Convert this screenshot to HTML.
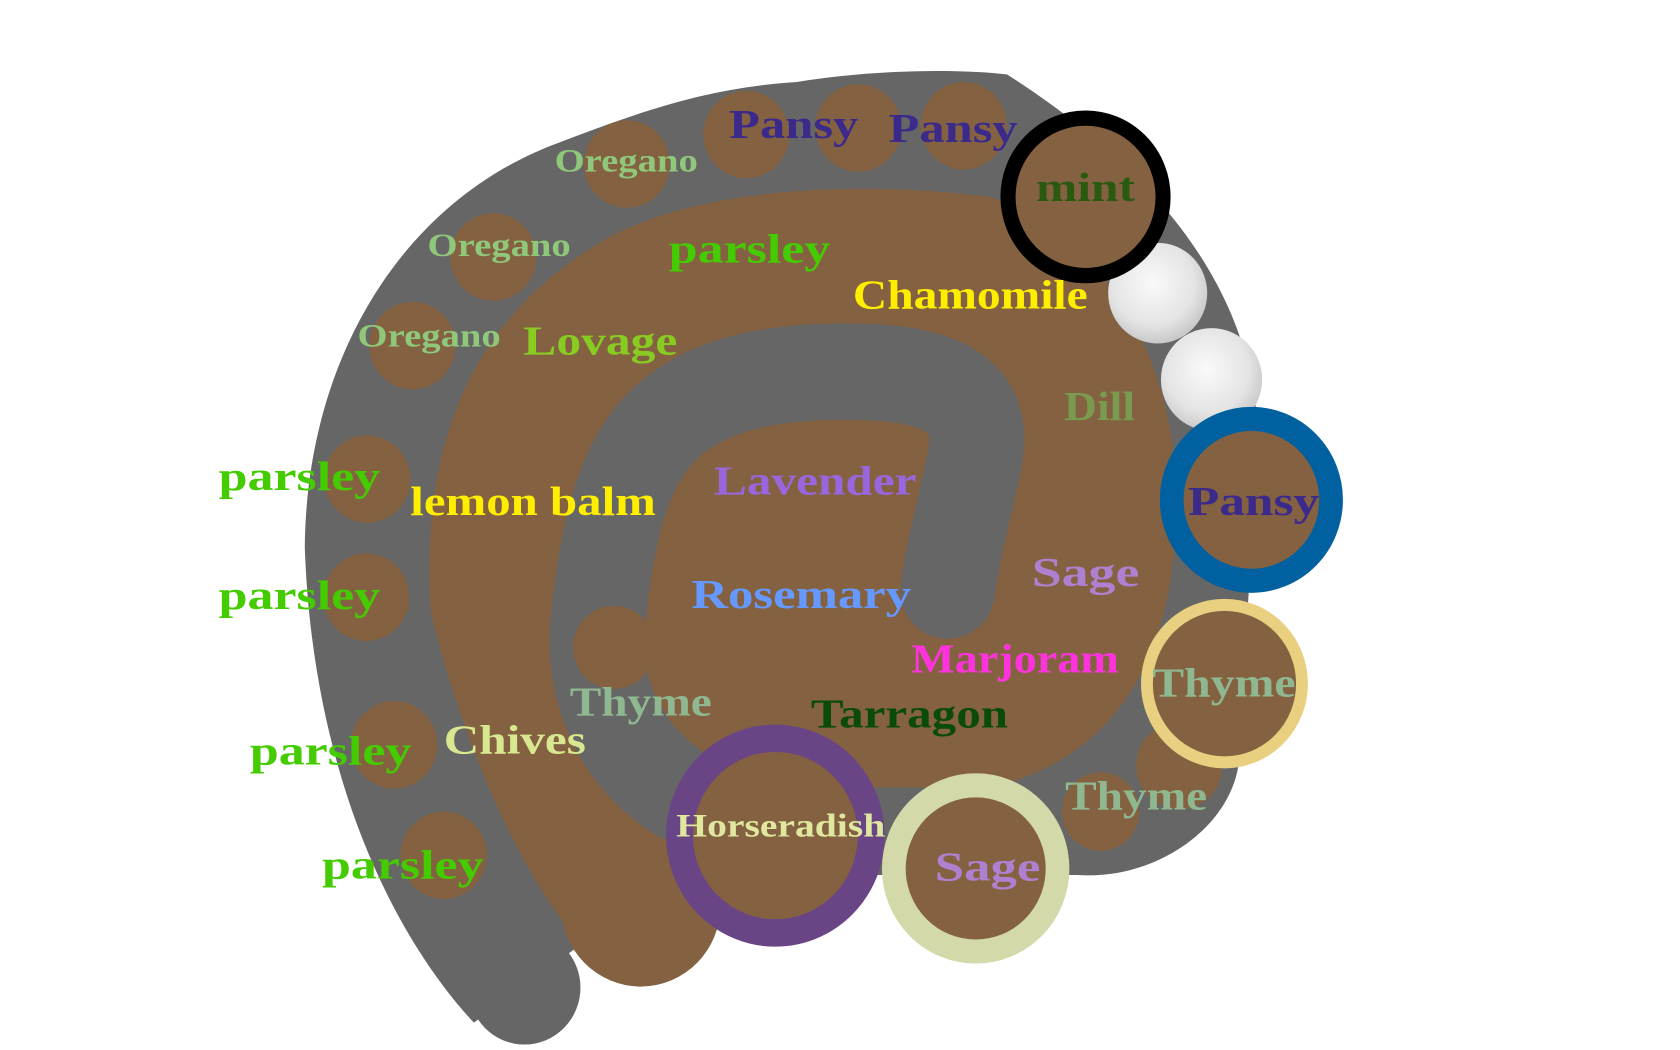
<!DOCTYPE html>
<html><head><meta charset="utf-8"><style>
html,body{margin:0;padding:0;background:#fff;overflow:hidden}
svg{display:block}
text{font-family:"Liberation Serif",serif;font-weight:bold}
</style></head><body>
<svg width="1680" height="1050" viewBox="0 0 1560 960" preserveAspectRatio="none">
<defs>
<radialGradient id="wb" cx="45%" cy="40%" r="60%"><stop offset="0" stop-color="#fafafa"/><stop offset="0.7" stop-color="#e4e4e4"/><stop offset="1" stop-color="#c8c8c8"/></radialGradient>
</defs>
<path d="M440,935 C360,850 290,700 283,500 C285,320 380,180 520,130 C600,100 660,80 740,75 C800,65 880,62 935,68 C1050,140 1165,250 1168,400 L1150,700 C1140,760 1070,805 1000,800 L800,800 L600,820 Z" fill="#666"/>
<circle cx="487" cy="903" r="52" fill="#666"/>
<path d="M595,900 C520,880 440,720 400,560 C390,400 440,290 560,220 C650,170 800,165 920,180 C1030,220 1090,330 1092,450 C1095,580 1050,690 920,720 L700,720 C660,760 670,880 595,900 Z" fill="#846241"/>
<circle cx="595" cy="828" r="74" fill="#846241"/>
<path d="M630,725 C570,685 548,625 556,560 C565,480 580,420 620,385 C660,350 720,338 800,340 C890,342 915,372 905,420 C895,470 885,500 880,540" fill="none" stroke="#666" stroke-width="88" stroke-linecap="round"/>
<g fill="#846241">
<circle cx="693" cy="123" r="40"/><circle cx="797" cy="117" r="40"/><circle cx="895" cy="115" r="40"/>
<circle cx="582" cy="150" r="40"/><circle cx="458" cy="235" r="40"/><circle cx="383" cy="316" r="40"/>
<circle cx="341" cy="438" r="40"/><circle cx="340" cy="546" r="40"/><circle cx="366" cy="681" r="40"/>
<circle cx="412" cy="782" r="40"/><circle cx="570" cy="592" r="38"/><circle cx="1022" cy="742" r="36"/><circle cx="1095" cy="700" r="40"/>
</g>
<circle cx="1075" cy="268" r="46" fill="url(#wb)"/>
<circle cx="1125" cy="347" r="47" fill="url(#wb)"/>
<circle cx="1008" cy="180" r="72" fill="#846241" stroke="#000" stroke-width="14"/>
<circle cx="1162" cy="457" r="74" fill="#846241" stroke="#0060a0" stroke-width="22"/>
<circle cx="1137" cy="625" r="72" fill="#846241" stroke="#e8d080" stroke-width="11"/>
<circle cx="720" cy="764" r="89" fill="#846241" stroke="#6a4585" stroke-width="25"/>
<circle cx="906" cy="794" r="76" fill="#846241" stroke="#d3d9a8" stroke-width="22"/>
<g font-size="38">
<text x="677" y="126" fill="#3b2a8a" textLength="120" lengthAdjust="spacingAndGlyphs">Pansy</text>
<text x="825" y="130" fill="#3b2a8a" textLength="120" lengthAdjust="spacingAndGlyphs">Pansy</text>
<text x="962" y="184" fill="#2a5a10" textLength="92" lengthAdjust="spacingAndGlyphs">mint</text>
<text x="515" y="157" fill="#8fc87a" font-size="30" textLength="133" lengthAdjust="spacingAndGlyphs">Oregano</text>
<text x="397" y="234" fill="#8fc87a" font-size="30" textLength="133" lengthAdjust="spacingAndGlyphs">Oregano</text>
<text x="332" y="317" fill="#8fc87a" font-size="30" textLength="133" lengthAdjust="spacingAndGlyphs">Oregano</text>
<text x="621" y="240" fill="#44cc00" textLength="150" lengthAdjust="spacingAndGlyphs">parsley</text>
<text x="792" y="282" fill="#ffee00" font-family="DejaVu Sans" font-weight="normal" textLength="218" lengthAdjust="spacingAndGlyphs">Chamomile</text>
<text x="486" y="324" fill="#88cc22" textLength="143" lengthAdjust="spacingAndGlyphs">Lovage</text>
<text x="988" y="384" fill="#7a9a50" textLength="66" lengthAdjust="spacingAndGlyphs">Dill</text>
<text x="203" y="448" fill="#44cc00" textLength="150" lengthAdjust="spacingAndGlyphs">parsley</text>
<text x="381" y="471" fill="#ffee00" textLength="228" lengthAdjust="spacingAndGlyphs">lemon balm</text>
<text x="663" y="452" fill="#9966dd" textLength="188" lengthAdjust="spacingAndGlyphs">Lavender</text>
<text x="1103" y="471" fill="#3b2a8a" textLength="122" lengthAdjust="spacingAndGlyphs">Pansy</text>
<text x="958" y="536" fill="#b080d0" textLength="100" lengthAdjust="spacingAndGlyphs">Sage</text>
<text x="203" y="557" fill="#44cc00" textLength="150" lengthAdjust="spacingAndGlyphs">parsley</text>
<text x="642" y="556" fill="#6699ff" textLength="204" lengthAdjust="spacingAndGlyphs">Rosemary</text>
<text x="846" y="615" fill="#ff33dd" textLength="193" lengthAdjust="spacingAndGlyphs">Marjoram</text>
<text x="1070" y="637" fill="#8fb890" textLength="133" lengthAdjust="spacingAndGlyphs">Thyme</text>
<text x="529" y="654" fill="#8fb890" textLength="132" lengthAdjust="spacingAndGlyphs">Thyme</text>
<text x="753" y="665" fill="#0a4a0a" textLength="183" lengthAdjust="spacingAndGlyphs">Tarragon</text>
<text x="232" y="699" fill="#44cc00" textLength="150" lengthAdjust="spacingAndGlyphs">parsley</text>
<text x="412" y="689" fill="#d8e890" textLength="132" lengthAdjust="spacingAndGlyphs">Chives</text>
<text x="989" y="740" fill="#8fb890" textLength="132" lengthAdjust="spacingAndGlyphs">Thyme</text>
<text x="628" y="765" fill="#e0e8a0" font-size="30" textLength="194" lengthAdjust="spacingAndGlyphs">Horseradish</text>
<text x="868" y="805" fill="#b080d0" textLength="98" lengthAdjust="spacingAndGlyphs">Sage</text>
<text x="299" y="803" fill="#44cc00" textLength="150" lengthAdjust="spacingAndGlyphs">parsley</text>
</g>
</svg>
</body></html>
